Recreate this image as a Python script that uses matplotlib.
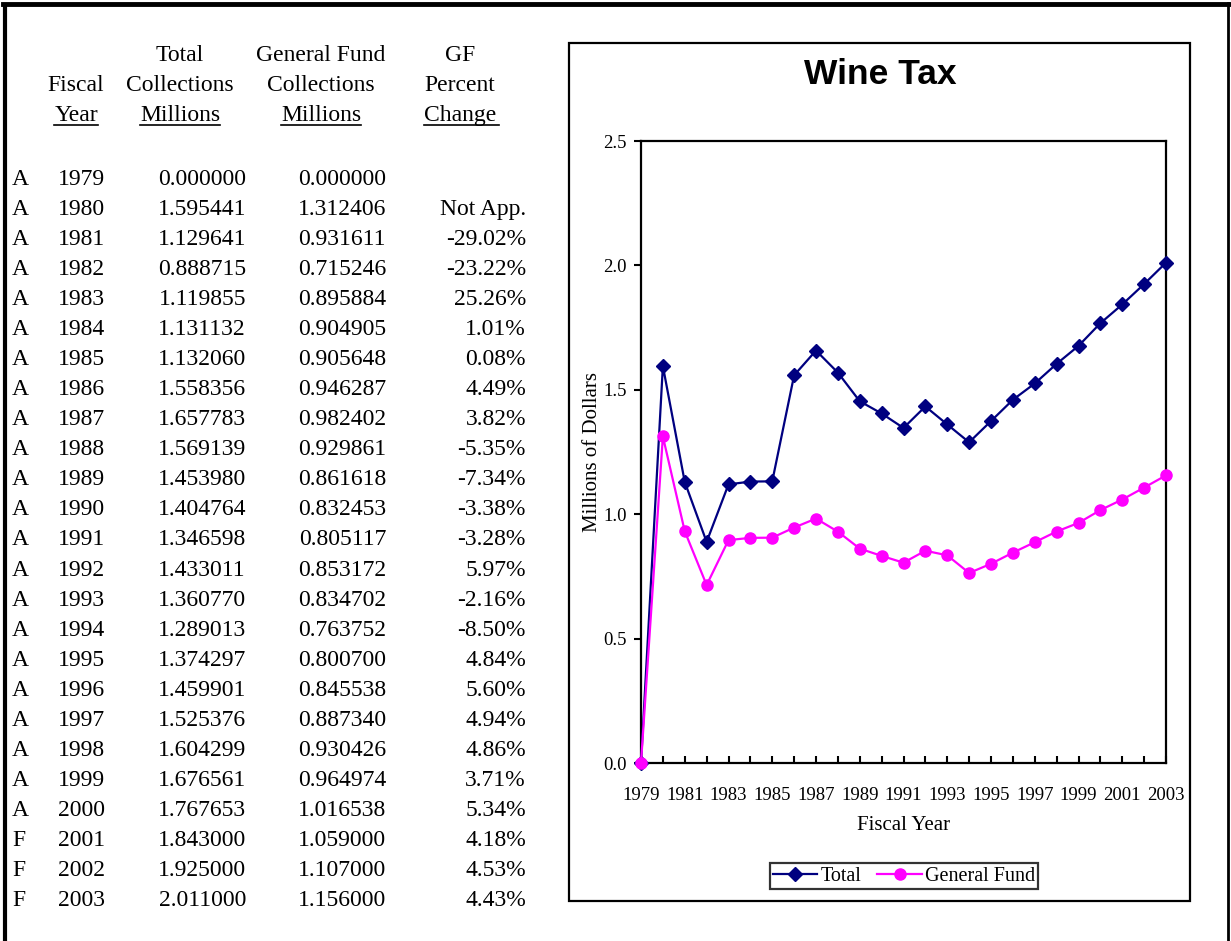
import matplotlib.pyplot as plt
from matplotlib.lines import Line2D
from matplotlib.patches import Rectangle

# data from the table
years = [1979, 1980, 1981, 1982, 1983, 1984, 1985, 1986, 1987, 1988, 1989, 1990,
         1991, 1992, 1993, 1994, 1995, 1996, 1997, 1998, 1999, 2000, 2001, 2002, 2003]
status = ['A'] * 22 + ['F'] * 3
total = [0.000000, 1.595441, 1.129641, 0.888715, 1.119855, 1.131132, 1.132060,
         1.558356, 1.657783, 1.569139, 1.453980, 1.404764, 1.346598, 1.433011,
         1.360770, 1.289013, 1.374297, 1.459901, 1.525376, 1.604299, 1.676561,
         1.767653, 1.843000, 1.925000, 2.011000]
general_fund = [0.000000, 1.312406, 0.931611, 0.715246, 0.895884, 0.904905, 0.905648,
                0.946287, 0.982402, 0.929861, 0.861618, 0.832453, 0.805117, 0.853172,
                0.834702, 0.763752, 0.800700, 0.845538, 0.887340, 0.930426, 0.964974,
                1.016538, 1.059000, 1.107000, 1.156000]
pct_change = ['', 'Not App.', '-29.02%', '-23.22%', '25.26%', '1.01%', '0.08%', '4.49%',
              '3.82%', '-5.35%', '-7.34%', '-3.38%', '-3.28%', '5.97%', '-2.16%',
              '-8.50%', '4.84%', '5.60%', '4.94%', '4.86%', '3.71%', '5.34%',
              '4.18%', '4.53%', '4.43%']

W, H = 1231, 941
serif = 'Liberation Serif'
fig = plt.figure(figsize=(W / 100, H / 100), dpi=100)


def fx(x):
    return x / W


def fy(y):
    return 1 - y / H


# outer frame (left, top, right)
fig.add_artist(Line2D([fx(5), fx(5)], [fy(5), fy(941)], color='black', lw=3))
fig.add_artist(Line2D([fx(3), fx(1230)], [fy(3.5), fy(3.5)], color='black', lw=3.5))
fig.add_artist(Line2D([fx(1228), fx(1228)], [fy(3), fy(941)], color='black', lw=2))

# ---- table on the left ----
fs = 17
headers = [
    (76, ['', 'Fiscal', 'Year']),
    (180, ['Total', 'Collections', 'Millions']),
    (321, ['General Fund', 'Collections', 'Millions']),
    (460, ['GF', 'Percent', 'Change']),
]
head_base = [61, 91, 121]
underline_texts = []
for cx, lines in headers:
    for i, s in enumerate(lines):
        if s:
            t = fig.text(fx(cx), fy(head_base[i]), s, ha='center', va='baseline',
                         fontsize=fs, family=serif)
            if i == 2:
                underline_texts.append(t)

row0 = 185
dy = 30.04
for i in range(len(years)):
    yb = fy(row0 + i * dy)
    fig.text(fx(12), yb, status[i], ha='left', va='baseline', fontsize=fs, family=serif)
    fig.text(fx(105), yb, str(years[i]), ha='right', va='baseline', fontsize=fs, family=serif)
    fig.text(fx(246), yb, f'{total[i]:.6f}', ha='right', va='baseline', fontsize=fs, family=serif)
    fig.text(fx(386), yb, f'{general_fund[i]:.6f}', ha='right', va='baseline', fontsize=fs, family=serif)
    if pct_change[i]:
        fig.text(fx(526), yb, pct_change[i], ha='right', va='baseline', fontsize=fs, family=serif)

# underlines under the last header row
renderer = fig.canvas.get_renderer()
for t in underline_texts:
    bb = t.get_window_extent(renderer)
    x0, x1 = bb.x0 / W, bb.x1 / W
    if t.get_text() == 'Change':
        x1 += 3 / W
    fig.add_artist(Line2D([x0, x1], [fy(124.5), fy(124.5)], color='black', lw=1.2))

# ---- chart on the right ----
fig.add_artist(Rectangle((fx(569), fy(901)), (1190 - 569) / W, (901 - 43) / H,
                         transform=fig.transFigure, fill=False, edgecolor='black', lw=1.6))

ax = fig.add_axes([fx(641), fy(763), (1166 - 641) / W, (763 - 141) / H])
ax.plot(years, total, color='#000080', marker='D', markersize=7, lw=1.6,
        label='Total', clip_on=False, zorder=3)
ax.plot(years, general_fund, color='#FF00FF', marker='o', markersize=8, lw=1.6,
        label='General Fund', clip_on=False, zorder=4)

ax.set_xlim(1979, 2003)
ax.set_ylim(0, 2.5)
ax.set_xticks(years, minor=True)
ax.set_xticks(years[::2])
ax.set_xticklabels([str(y) for y in years[::2]])
ax.set_yticks([0.0, 0.5, 1.0, 1.5, 2.0, 2.5])
ax.set_yticklabels(['0.0', '0.5', '1.0', '1.5', '2.0', '2.5'])
ax.tick_params(axis='x', which='both', direction='in', length=5, width=1.5, pad=17)
ax.tick_params(axis='x', labelsize=13.5, labelfontfamily=serif)
ax.tick_params(axis='y', direction='out', length=5, width=1.5, pad=5,
               labelsize=13.5, labelfontfamily=serif)
for sp in ax.spines.values():
    sp.set_linewidth(1.6)

ax.set_xlabel('Fiscal Year', fontsize=15, family=serif, labelpad=9)
ax.set_ylabel('Millions of Dollars', fontsize=15, family=serif, labelpad=1)

fig.text(fx(880), fy(74), 'Wine Tax', ha='center', va='center', fontsize=25.5,
         fontweight='bold', family='Liberation Sans')

leg = fig.legend(loc='center', bbox_to_anchor=(fx(904), fy(876)), ncol=2,
                 prop={'family': serif, 'size': 14.5}, frameon=True, fancybox=False,
                 borderpad=0.15, handlelength=2.2, handletextpad=0.15, columnspacing=0.8,
                 borderaxespad=0)
leg.get_frame().set_edgecolor('black')
leg.get_frame().set_linewidth(1.6)

fig.savefig('out.png', dpi=100)
